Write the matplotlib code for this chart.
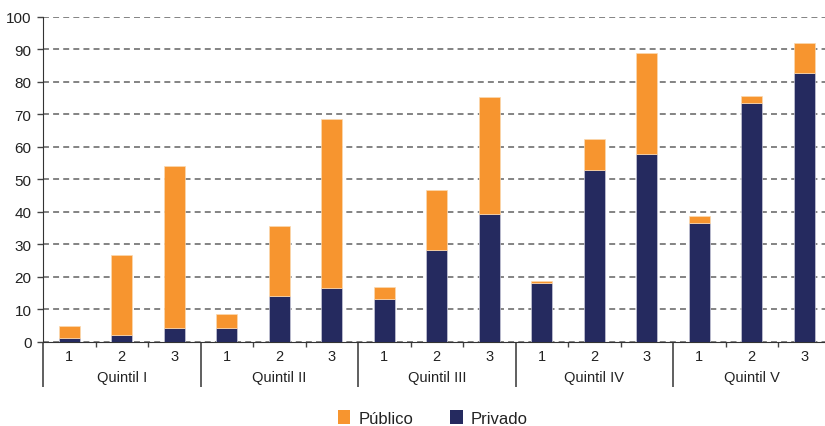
import numpy as np
import matplotlib
matplotlib.use("Agg")
from matplotlib import pyplot as plt
from matplotlib.patches import Patch

plt.rcParams["font.family"] = ["Liberation Sans", "DejaVu Sans"]

# datos
grupos = ["Quintil I", "Quintil II", "Quintil III", "Quintil IV", "Quintil V"]
subcats = ["1", "2", "3"]
privado = [1.0, 2.1, 4.2, 4.2, 14.1, 16.6, 13.0, 28.2, 39.2, 18.2, 52.9, 57.6, 36.5, 73.4, 82.7]
total = [4.7, 26.7, 54.0, 8.4, 35.6, 68.6, 16.7, 46.7, 75.1, 18.7, 62.4, 88.7, 38.7, 75.6, 91.7]
publico = [t - p for t, p in zip(total, privado)]

c_pub = "#F7952F"
c_priv = "#252A5F"

fig = plt.figure(figsize=(8.25, 4.27), dpi=100)
ax = fig.add_axes([43 / 825, 84.3 / 427, 787.5 / 825, 325.2 / 427])

n = len(privado)
x = np.arange(n) + 0.5
ax.bar(x, privado, width=0.4, color=c_priv, edgecolor="#c8c8d8", linewidth=0.5, zorder=3)
ax.bar(x, publico, bottom=privado, width=0.4, color=c_pub, edgecolor="#fbd9b0", linewidth=0.5, zorder=3)

ax.set_xlim(0, n)
ax.set_ylim(0, 100)
ax.set_yticks(np.arange(0, 101, 10))
ax.yaxis.grid(True, linestyle=(0, (3.3, 2.3)), color="#7a7a7a", linewidth=1.3, zorder=0)
ax.tick_params(axis="y", length=4.3, width=1, color="#444444", labelsize=11, pad=4,
               labelcolor="#222222")

for s in ["top", "right"]:
    ax.spines[s].set_visible(False)
ax.spines["left"].set_color("#333333")
ax.spines["bottom"].set_color("#333333")

# ticks del eje x: separadores de grupo largos, separadores cortos entre barras
ax.set_xticks(np.arange(0, n + 1, 3))
ax.set_xticklabels([])
ax.set_xticks([i for i in range(1, n) if i % 3 != 0], minor=True)
ax.tick_params(axis="x", which="major", length=32.5, width=1.2, color="#444444")
ax.tick_params(axis="x", which="minor", length=3.5, width=1, color="#444444")

trans = ax.get_xaxis_transform()
for i in range(n):
    ax.text(x[i], -0.045, subcats[i % 3], transform=trans, ha="center", va="center",
            fontsize=10.5, color="#222222")
for g, name in enumerate(grupos):
    ax.text(3 * g + 1.5, -0.11, name, transform=trans, ha="center", va="center",
            fontsize=10.5, color="#222222")

handles = [Patch(facecolor=c_pub, label="Público"), Patch(facecolor=c_priv, label="Privado")]
fig.legend(handles=handles, loc="center", bbox_to_anchor=(433 / 825, 1 - 419 / 427), ncol=2,
           frameon=False, fontsize=12, handlelength=0.75, handleheight=0.85, handletextpad=0.5,
           columnspacing=2.2, labelcolor="#222222")

fig.savefig("out.png", dpi=100)
